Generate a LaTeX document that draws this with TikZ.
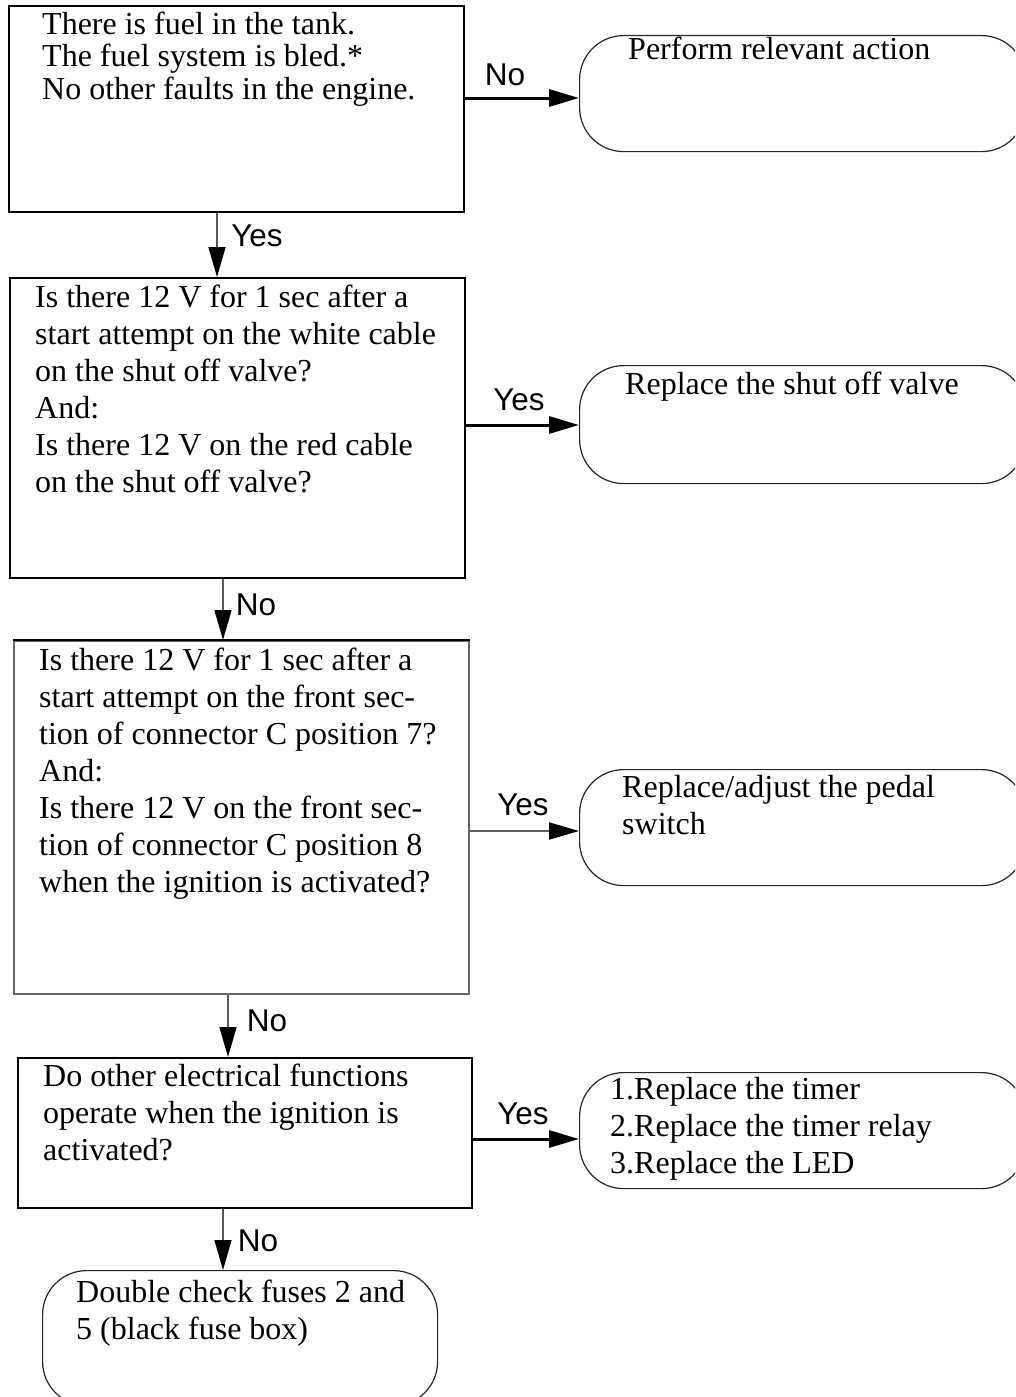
\documentclass[tikz,border=0pt]{standalone}
\usepackage{fontspec}
\setmainfont{Liberation Serif}
\setsansfont{Liberation Sans}
\usetikzlibrary{arrows.meta}
\begin{document}
\begin{tikzpicture}[x=1pt,y=-1pt,
  box/.style={draw=black, line width=2pt, inner sep=0pt, anchor=north west},
  gbox/.style={draw=gray!80!black, line width=1.5pt, inner sep=0pt, anchor=north west},
  rbox/.style={draw=black!85, line width=1.2pt, rounded corners=44pt, inner sep=0pt, anchor=north west},
  txt/.style={inner sep=0pt, anchor=north west, align=left, font=\fontsize{32}{37}\selectfont},
  txtb/.style={inner sep=0pt, anchor=north west, align=left, font=\fontsize{32}{32.5}\selectfont},
  lab/.style={inner sep=0pt, font=\sffamily\fontsize{31.5}{32}\selectfont},
  arrtip/.style={-{Triangle[length=30pt,width=17pt,color=black]}},
  harr/.style={arrtip, draw=black, line width=3pt},
  harrg/.style={arrtip, draw=gray!75!black, line width=2pt},
  varr/.style={arrtip, draw=gray!70!black, line width=1.5pt}]
\useasboundingbox (0,0) rectangle (1015,1397);
\clip (0,0) rectangle (1015,1397);

% left column boxes
\node[box, minimum width=455pt, minimum height=206pt] (b1) at (8,5) {};
\node[box, minimum width=455pt, minimum height=300pt] (b2) at (9,277) {};
\node[gbox, minimum width=455pt, minimum height=353pt] (b3) at (13,640) {};
\draw[line width=2pt] (b3.north west) -- (b3.north east);
\node[box, minimum width=454pt, minimum height=150pt] (b4) at (17,1057) {};
\node[rbox, minimum width=395pt, minimum height=135pt] (r5) at (42,1270) {};

% right column boxes
\node[rbox, minimum width=446pt, minimum height=116pt] (r1) at (579,35) {};
\node[rbox, minimum width=446pt, minimum height=118pt] (r2) at (579,365) {};
\node[rbox, minimum width=446pt, minimum height=116pt] (r3) at (579,769) {};
\node[rbox, minimum width=446pt, minimum height=116pt] (r4) at (579,1072) {};

% texts
\node[txtb] (t1) at (42,11.5) {\strut There is fuel in the tank.\\The fuel system is bled.*\\No other faults in the engine.};
\node[txt] (t2) at (35,281) {\strut Is there 12 V for 1 sec after a\\start attempt on the white cable\\on the shut off valve?\\And:\\Is there 12 V on the red cable\\on the shut off valve?};
\node[txt] (t3) at (39,644) {\strut Is there 12 V for 1 sec after a\\start attempt on the front sec-\\tion of connector C position 7?\\And:\\Is there 12 V on the front sec-\\tion of connector C position 8\\when the ignition is activated?};
\node[txt] (t4) at (43,1060) {\strut Do other electrical functions\\operate when the ignition is\\activated?};
\node[txt] (t5) at (76,1276) {\strut Double check fuses 2 and\\5 (black fuse box)};
\node[txt] (tr1) at (628,33) {\strut Perform relevant action};
\node[txt] (tr2) at (625,368) {\strut Replace the shut off valve};
\node[txt] (tr3) at (622,771) {\strut Replace/adjust the pedal\\switch};
\node[txt] (tr4) at (610,1073) {\strut 1.Replace the timer\\2.Replace the timer relay\\3.Replace the LED};

% connector guide coordinates
\coordinate (v1) at (217,0);
\coordinate (v2) at (223,0);
\coordinate (v3) at (228,0);
\coordinate (v4) at (223,0);
\coordinate (h1) at (0,98);
\coordinate (h2) at (0,425);
\coordinate (h3) at (0,831);
\coordinate (h4) at (0,1139);

% vertical connectors
\draw[varr] (v1 |- b1.south) -- (v1 |- b2.north);
\draw[varr] (v2 |- b2.south) -- (v2 |- b3.north);
\draw[varr] (v3 |- b3.south) -- (v3 |- b4.north);
\draw[varr] (v4 |- b4.south) -- (v4 |- r5.north);

% horizontal connectors
\draw[harr] (b1.east |- h1) -- (r1.west |- h1);
\draw[harr] (b2.east |- h2) -- (r2.west |- h2);
\draw[harrg] (b3.east |- h3) -- (r3.west |- h3);
\draw[harr] (b4.east |- h4) -- (r4.west |- h4);

% labels
\node[lab] (l1) at (505,75) {No};
\node[lab] (l2) at (257,236) {Yes};
\node[lab] (l3) at (519,400) {Yes};
\node[lab] (l4) at (256,605) {No};
\node[lab] (l5) at (523,805) {Yes};
\node[lab] (l6) at (267,1021) {No};
\node[lab] (l7) at (523,1114) {Yes};
\node[lab] (l8) at (258,1241) {No};
\end{tikzpicture}
\end{document}
